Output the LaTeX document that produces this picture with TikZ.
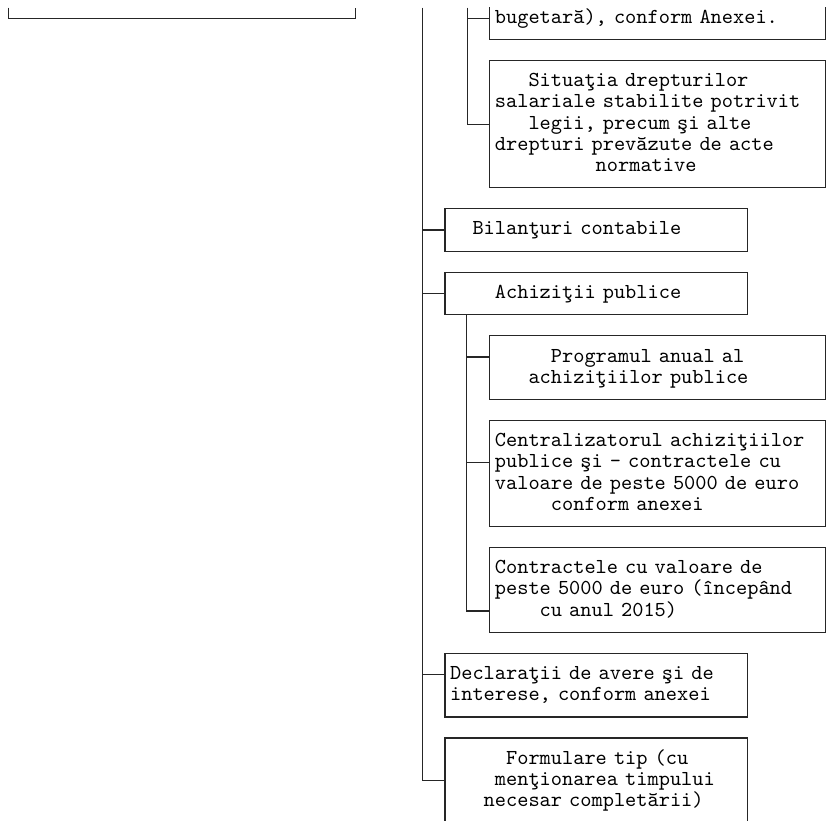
\documentclass[tikz,border=0pt]{standalone}
\usepackage{fontspec}
\usepackage{tikz}
\newfontfamily\boxmono{lmmono10-regular}[Extension=.otf]
\newcommand{\boxfont}{\boxmono\fontsize{21.333pt}{21.17pt}\selectfont\lineskiplimit=-10pt}
\newlength{\cw}
\setlength{\cw}{11.2pt}
\newcommand{\rs}{\rule[-5.585pt]{0pt}{21.17pt}}
\newcommand{\ind}[1]{\hspace*{#1\cw}}
\tikzstyle{lbox} = [rectangle, draw=black!85, inner sep=0pt, minimum width=302.4pt, text
width=292.2pt, align=left, font=\boxfont]
\tikzstyle{wbox} = [rectangle, draw=black!85, inner sep=0pt, minimum width=336pt, text
width=325.8pt, align=left, font=\boxfont]
\tikzstyle{branch} = [draw=black!85]
\usetikzlibrary{calc}

\begin{document}
\begin{tikzpicture}[x=11.2pt, y=-21.17pt, line width=1.2pt]
        \useasboundingbox (-0.7321,-0.8644) rectangle (73.018,37.917);
        \clip (-0.7321,-0.5) rectangle (73.018,37.917);

        \draw[branch] (0,-0.5) |- (31,0) -- (31,-0.5);

        \draw (58,0) node[wbox, minimum height=42.34pt] (anexa) {\rs bugetară), conform Anexei.};
        \draw (58,5) node[wbox, minimum height=127.02pt] (sit) {\rs\ind{3}Situaţia drepturilor\\
        \rs salariale stabilite potrivit\\ \rs\ind{3}legii, precum şi alte\\
        \rs drepturi prevăzute de acte\\ \rs\ind{9}normative};

        \draw (52.5,10) node[lbox, minimum height=42.34pt] (bil) {\rs\ind{2}Bilanţuri contabile};
        \draw (52.5,13) node[lbox, minimum height=42.34pt] (achiz) {\rs\ind{4}Achiziţii publice};

        \draw (58,16.5) node[wbox, minimum height=63.51pt] (prog) {\rs\ind{5}Programul anual al\\
        \rs\ind{3}achiziţiilor publice};
        \draw (58,21.5) node[wbox, minimum height=105.85pt] (centr) {\rs Centralizatorul achiziţiilor\\
        \rs publice şi - contractele cu\\ \rs valoare de peste 5000 de euro\\
        \rs\ind{5}conform anexei};
        \draw (58,27) node[wbox, minimum height=84.68pt] (contr) {\rs Contractele cu valoare de\\
        \rs peste 5000 de euro (începând\\ \rs\ind{4}cu anul 2015)};

        \draw (52.5,31.5) node[lbox, minimum height=63.51pt] (decl) {\rs Declaraţii de avere şi de\\
        \rs interese, conform anexei};
        \draw (52.5,36) node[lbox, minimum height=84.68pt] (form) {\rs\ind{5}Formulare tip (cu\\
        \rs\ind{4}menţionarea timpului\\ \rs\ind{3}necesar completării)};

        % Lines
        \coordinate (trunk) at (37,-0.5);
        \coordinate (sub1) at (41,-0.5);
        \coordinate (sub2) at ($(achiz.south west)+(2,0)$);
        \coordinate (progc) at ($(prog.west)+(0,-0.5)$);
        \coordinate (centrc) at ($(centr.west)+(0,-0.5)$);
        \coordinate (contrc) at ($(contr.west)+(0,1)$);
        \coordinate (declc) at ($(decl.west)+(0,-0.5)$);

        \draw[branch] (trunk) |- (form.west);
        \draw[branch] (trunk |- bil.west) -- (bil.west);
        \draw[branch] (trunk |- achiz.west) -- (achiz.west);
        \draw[branch] (trunk |- declc) -- (declc);

        \draw[branch] (sub1) |- (sit.west);
        \draw[branch] (sub1 |- anexa.west) -- (anexa.west);

        \draw[branch] (sub2) |- (contrc);
        \draw[branch] (sub2 |- progc) -- (progc);
        \draw[branch] (sub2 |- centrc) -- (centrc);
\end{tikzpicture}
\end{document}
